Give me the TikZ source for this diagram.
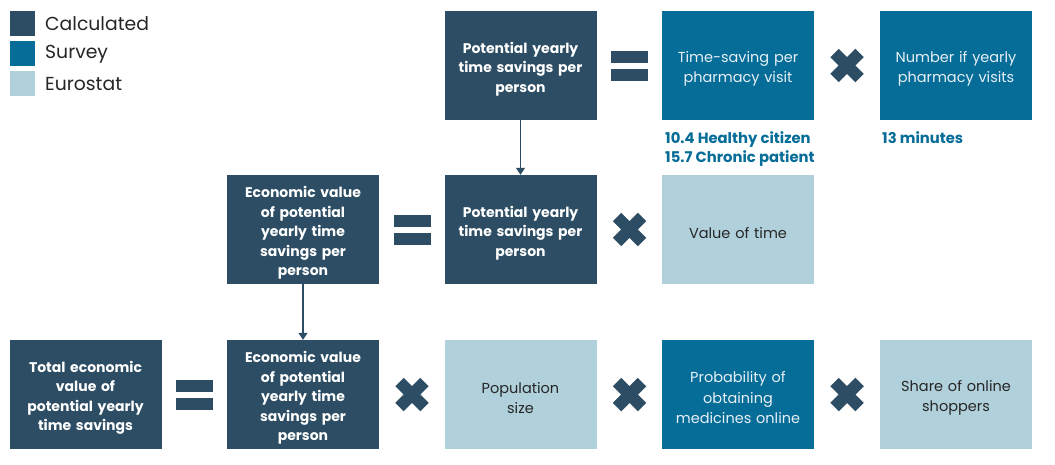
\documentclass[tikz,border=0pt]{standalone}
\usepackage{fontspec}
\setmainfont{Poppins}
\usetikzlibrary{arrows.meta}
\definecolor{calc}{HTML}{2C4D63}
\definecolor{survey}{HTML}{066C98}
\definecolor{euro}{HTML}{B0D0DB}
\definecolor{eurotext}{HTML}{262626}
\definecolor{surveytext}{HTML}{E6F0F5}
\begin{document}
\begin{tikzpicture}[x=1pt,y=-1pt,
  box/.style={rectangle, minimum width=152pt, minimum height=109pt,
    inner sep=0pt},
  boxtext/.style={inner sep=0pt, align=center, text width=150pt,
    yshift=-3.5pt},
  calctext/.style={boxtext, text=white,
    font=\bfseries\fontsize{14}{19.5}\selectfont},
  surveytext/.style={boxtext, text=surveytext,
    font=\fontsize{14.5}{20.5}\selectfont},
  eurotext/.style={boxtext, text=eurotext,
    font=\fontsize{14.5}{20.5}\selectfont},
  calcbox/.style={box, fill=calc, label={[calctext]center:{#1}}},
  surveybox/.style={box, fill=survey, label={[surveytext]center:{#1}}},
  eurobox/.style={box, fill=euro, label={[eurotext]center:{#1}}},
  figure/.style={anchor=north west, align=left, inner sep=0pt, text=survey,
    font=\bfseries\fontsize{14.8}{18.5}\selectfont},
  legsq/.style={rectangle, minimum size=25pt, inner sep=0pt},
  legtext/.style={anchor=west, inner sep=0pt, text=black!85,
    font=\fontsize{18.8}{22}\selectfont},
  link/.style={draw=calc, line width=1.3pt,
    -{Triangle[width=9pt,length=7pt]}},
  equals/.pic={
    \fill[calc] (-18.5,-15) rectangle (18.5,-3);
    \fill[calc] (-18.5,3) rectangle (18.5,15);
  },
  times/.pic={
    \draw[calc, line width=12pt] (-12.5,-12.5) -- (12.5,12.5);
    \draw[calc, line width=12pt] (-12.5,12.5) -- (12.5,-12.5);
  }
]
\useasboundingbox (0,0) rectangle (1055,464);

% legend
\node[legsq, fill=calc]   (kc) at (22.5,23.5) {};
\node[legsq, fill=survey] (ks) at (22.5,53.5) {};
\node[legsq, fill=euro]   (ke) at (22.5,83.5) {};
\node[legtext] (kct) at (45,24) {Calculated};
\node[legtext] (kst) at (45,54) {Survey};
\node[legtext] (ket) at (45,84) {Eurostat};

% first row: yearly time savings
\node[calcbox={Potential yearly\\time savings per\\person}] (pts1) at (520.5,65.5) {};
\pic at (629.5,65.5) {equals};
\node[surveybox={Time-saving per\\pharmacy visit}] (tpv) at (738,65.5) {};
\pic at (847,65.5) {times};
\node[surveybox={Number if yearly\\pharmacy visits}] (npv) at (956,65.5) {};
\node[figure] (tpvval) at (665,131.5) {10.4 Healthy citizen\\15.7 Chronic patient};
\node[figure] (npvval) at (882,131.5) {13 minutes};

% second row: economic value per person
\node[calcbox={Economic value\\of potential\\yearly time\\savings per\\person}] (ev1) at (303,229.5) {};
\pic at (412,229.5) {equals};
\node[calcbox={Potential yearly\\time savings per\\person}] (pts2) at (520.5,229.5) {};
\pic at (629.5,229.5) {times};
\node[eurobox={Value of time}] (vot) at (738,229.5) {};

% third row: total economic value
\node[calcbox={Total economic\\value of\\potential yearly\\time savings}] (tot) at (85.5,394.5) {};
\pic at (194,394.5) {equals};
\node[calcbox={Economic value\\of potential\\yearly time\\savings per\\person}] (ev2) at (303,394.5) {};
\pic at (412,394.5) {times};
\node[eurobox={Population\\size}] (pop) at (520.5,394.5) {};
\pic at (629.5,394.5) {times};
\node[surveybox={Probability of\\obtaining\\medicines online}] (prob) at (738,394.5) {};
\pic at (847,394.5) {times};
\node[eurobox={Share of online\\shoppers}] (shop) at (956,394.5) {};

% carried-over quantities
\draw[link] (pts1.south) -- (pts2.north);
\draw[link] (ev1.south) -- (ev2.north);
\end{tikzpicture}
\end{document}
